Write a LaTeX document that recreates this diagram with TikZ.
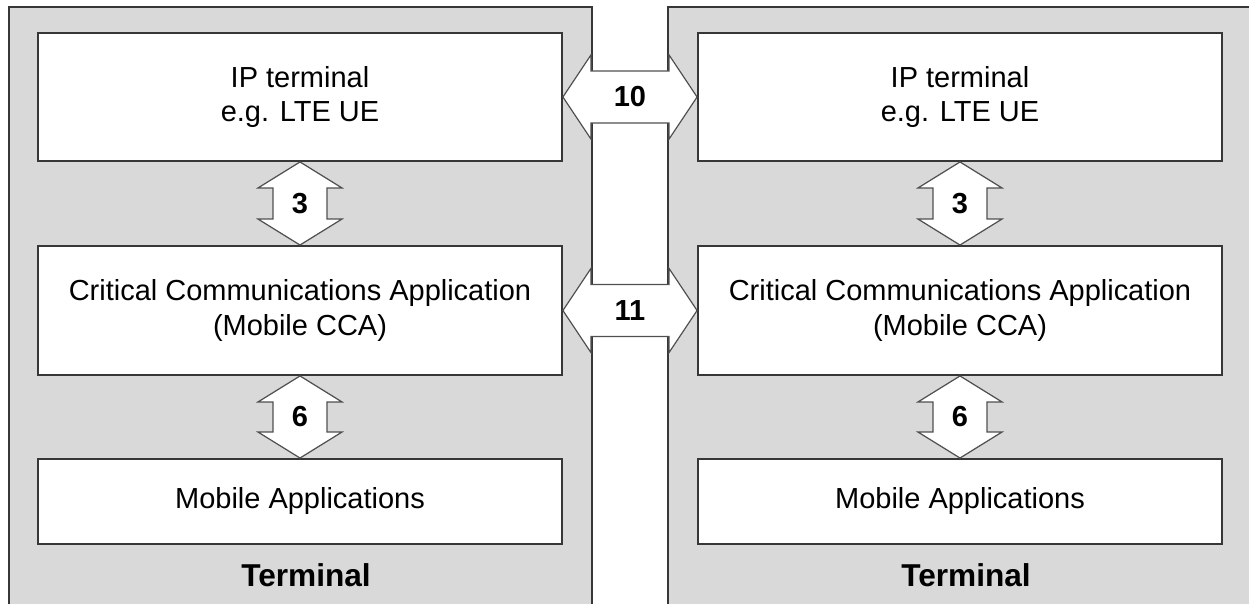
\documentclass[tikz,border=0pt]{standalone}
\usepackage{fontspec}
\setmainfont{Liberation Sans}
\usetikzlibrary{calc}
\definecolor{termgray}{RGB}{217,217,217}
\definecolor{edgegray}{RGB}{55,55,55}
\definecolor{arrowgray}{RGB}{80,80,80}
\tikzset{
	termbox/.style={draw=edgegray,fill=termgray,line width=1.1pt},
	unit/.style={draw=edgegray,fill=white,line width=1.1pt,minimum width=10.48cm,inner sep=0pt,align=center,font=\fontsize{16.5}{19.5}\selectfont},
	blockarrow/.style={draw=arrowgray,fill=white,line width=0.7pt,line join=miter},
	lbl/.style={font=\bfseries\fontsize{16.5}{19}\selectfont,inner sep=0pt},
	termlbl/.style={font=\bfseries\fontsize{18}{21}\selectfont,inner sep=0pt}
}
\begin{document}
\begin{tikzpicture}[x=0.02cm,y=-0.02cm]
				\useasboundingbox (0,0) rectangle (1249,604);
				\fill[white] (0,0) rectangle (1249,604);
				\clip (0,0) rectangle (1249,604);
				\draw[termbox] (9,7) rectangle (592,630);
				\draw[termbox] (668,7) rectangle (1270,630);
				\node[unit,minimum height=2.56cm] (ipL) at (300,97) {IP terminal\\e.g. LTE UE};
				\node[unit,minimum height=2.58cm] (ccaL) at (300,310.5) {Critical Communications Application\\(Mobile CCA)};
				\node[unit,minimum height=1.7cm] (appL) at (300,501.5) {Mobile Applications};
				\node[unit,minimum height=2.56cm] (ipR) at (960,97) {IP terminal\\e.g. LTE UE};
				\node[unit,minimum height=2.58cm] (ccaR) at (960,310.5) {Critical Communications Application\\(Mobile CCA)};
				\node[unit,minimum height=1.7cm] (appR) at (960,501.5) {Mobile Applications};
				\node[termlbl] (termL) at (306,575) {Terminal};
				\node[termlbl] (termR) at (966,575) {Terminal};
				\foreach \a/\b/\n in {ipL/ccaL/3, ccaL/appL/6, ipR/ccaR/3, ccaR/appR/6}{
					\draw[blockarrow] (\a.south) -- ($(\a.south)+(42,26)$) -- ($(\a.south)+(27,26)$) -- ($(\b.north)+(27,-26)$) -- ($(\b.north)+(42,-26)$) -- (\b.north)
						-- ($(\b.north)+(-42,-26)$) -- ($(\b.north)+(-27,-26)$) -- ($(\a.south)+(-27,26)$) -- ($(\a.south)+(-42,26)$) -- cycle;
					\node[lbl] at ($(\a.south)!0.5!(\b.north)$) {\n};}
				\foreach \a/\b/\n in {ipL/ipR/10, ccaL/ccaR/11}{
					\draw[blockarrow] (\a.east) -- ($(\a.east)+(28,-42)$) -- ($(\a.east)+(28,-26)$) -- ($(\b.west)+(-28,-26)$) -- ($(\b.west)+(-28,-42)$) -- (\b.west)
						-- ($(\b.west)+(-28,42)$) -- ($(\b.west)+(-28,26)$) -- ($(\a.east)+(28,26)$) -- ($(\a.east)+(28,42)$) -- cycle;
					\node[lbl] at ($(\a.east)!0.5!(\b.west)$) {\n};}
			\end{tikzpicture}
\end{document}
